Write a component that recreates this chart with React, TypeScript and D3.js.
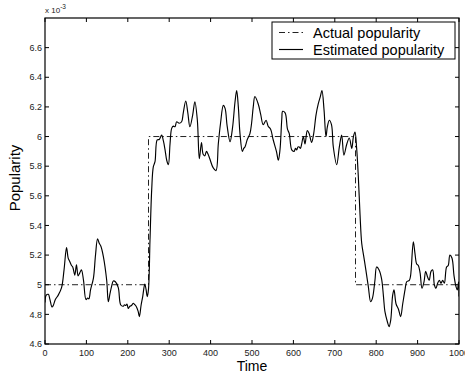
import React from "react";
import * as d3 from "d3";

const timeValues = [0,3,8,12,17,20,25,32,40,46,52,56,60,64,67,72,76,80,84,88,93,99,103,106,110,117,122,127,131,135,141,149,153,157,161,165,170,177,183,189,192,195,198,201,205,209,213,217,221,225,228,232,236,241,244,247,250,253.6,257.7,261.6,265.7,271,276,281.8,286,290,294,298,302,306,310,314,318,324,330,334,340,345,350,356.7,362,368,372.8,378,382,386,390,394,398,406,413,418.6,424,430.8,435,440,447,453,459,463,467,471,476.7,480,483,488.6,495,499,503,507,515,521,527,534,539,545,551,559,563.6,567.6,572,574,580,585.7,590,596,601.6,605,608,611,614,617,620,624,628,633.6,638,644,649,654.6,660,665,669,674,678.7,682,686.7,692,696.4,704.6,711,716.6,722,729,735,741,745,748.8,752.8,756.8,761,765,770,775,781,786.6,791,797,801,807,813,817.6,821,827,831,835,839.8,843,848,853.8,859,864,869.6,873.6,880,883,889.7,893.7,897.8,901.8,906,910.6,915.5,919.5,924.3,928,932.4,936.4,940.5,944.4,948.4,952.5,956.5,960.6,964.6,970,974,978,983,988,992.8,996,999,1000];
const estimatedValues = [4.88,4.93,4.935,4.9,4.85,4.86,4.9,4.93,4.98,5.1,5.25,5.18,5.155,5.13,5.12,5.065,5.135,5.06,5.08,5.10,5.03,4.90,4.91,4.905,4.965,5.045,5.2,5.31,5.28,5.26,5.19,5.03,4.885,4.94,4.99,5.025,5.02,4.98,4.863,4.855,4.865,4.86,4.87,4.84,4.855,4.86,4.875,4.865,4.85,4.82,4.785,4.86,4.92,5.005,4.97,4.92,4.97,5.30,5.64,5.796,5.83,5.977,5.98,6.01,5.97,5.91,5.84,5.81,5.95,6.055,6.07,6.066,6.10,6.09,6.10,6.16,6.24,6.16,6.066,6.145,6.235,6.11,5.85,5.96,5.88,5.87,5.90,5.88,5.85,5.79,5.77,5.95,6.09,6.21,6.19,6.07,5.965,6.06,6.235,6.31,6.20,6.02,5.90,5.92,5.93,5.98,6.02,6.09,6.2,6.27,6.22,6.15,6.08,6.11,6.07,6.05,5.98,5.90,5.84,5.91,6.12,6.17,6.16,6.05,6.02,5.91,5.90,5.92,5.91,5.93,5.93,5.92,5.95,6.0,5.95,6.04,6.02,5.96,6.02,6.145,6.22,6.27,6.31,6.18,6.0,6.065,6.11,6.08,5.93,5.81,5.93,6.01,5.875,5.95,5.99,5.92,6.0,6.03,5.92,5.73,5.47,5.28,5.19,5.10,4.987,4.885,4.91,5.03,5.12,5.10,5.04,4.92,4.82,4.75,4.717,4.76,4.93,4.965,4.87,4.835,4.785,4.87,4.965,5.02,5.03,5.06,5.29,5.21,5.14,5.13,5.08,4.976,5.02,5.09,5.05,5.03,5.09,5.10,5.0,4.976,5.01,5.03,5.01,5.03,5.01,5.12,5.13,5.20,5.18,5.06,4.987,4.965,5.02,4.92];

const actualTimes = [0, 250, 250, 750, 750, 1000];
const actualValues = [5, 5, 6, 6, 5, 5];

const xTicks = [0, 100, 200, 300, 400, 500, 600, 700, 800, 900, 1000];
const yTicks = [4.6, 4.8, 5, 5.2, 5.4, 5.6, 5.8, 6, 6.2, 6.4, 6.6];

const legendLabels = ["Actual popularity", "Estimated popularity"];

export default function App() {
  const W = 465, H = 379;
  const left = 45, right = 459, top = 18, bottom = 344;
  const x = d3.scaleLinear().domain([0, 1000]).range([left, right]);
  const y = d3.scaleLinear().domain([4.6, 6.8]).range([bottom, top]);
  const font = "'Liberation Sans', Arial, Helvetica, sans-serif";

  const estData = timeValues.map((t, i) => [t, estimatedValues[i]] as [number, number]);
  const actData = actualTimes.map((t, i) => [t, actualValues[i]] as [number, number]);
  const line = d3.line<[number, number]>().x(d => x(d[0])).y(d => y(d[1]));
  const smoothLine = d3.line<[number, number]>().x(d => x(d[0])).y(d => y(d[1])).curve(d3.curveCatmullRom.alpha(0.5));

  const tl = 4;
  const dashDot = "6,3,1.5,3";

  return (
    <svg width={W} height={H} style={{ position: "absolute", left: 0, top: 0, background: "#fff" }}>
      <rect x={0} y={0} width={W} height={H} fill="#fff" />
      <defs>
        <clipPath id="plotClip">
          <rect x={left} y={top} width={right - left} height={bottom - top} />
        </clipPath>
      </defs>
      <g clipPath="url(#plotClip)">
        <path d={line(actData) || ""} fill="none" stroke="#222" strokeWidth={1} strokeDasharray={dashDot} />
        <path d={smoothLine(estData) || ""} fill="none" stroke="#000" strokeWidth={1.15} strokeLinejoin="round" />
      </g>
      <rect x={left} y={top} width={right - left} height={bottom - top} fill="none" stroke="#000" strokeWidth={1.2} />
      {xTicks.map(t => (
        <g key={"x" + t}>
          <line x1={x(t)} x2={x(t)} y1={bottom} y2={bottom - tl} stroke="#000" strokeWidth={1} />
          <line x1={x(t)} x2={x(t)} y1={top} y2={top + tl} stroke="#000" strokeWidth={1} />
          <text x={x(t)} y={356} textAnchor="middle" fontFamily={font} fontSize={9} fill="#222">{t}</text>
        </g>
      ))}
      {yTicks.map(t => (
        <g key={"y" + t}>
          <line x1={left} x2={left + tl} y1={y(t)} y2={y(t)} stroke="#000" strokeWidth={1} />
          <line x1={right} x2={right - tl} y1={y(t)} y2={y(t)} stroke="#000" strokeWidth={1} />
          <text x={left - 3} y={y(t) + 3.2} textAnchor="end" fontFamily={font} fontSize={9} fill="#222">{String(t)}</text>
        </g>
      ))}
      <text x={45} y={12.5} fontFamily={font} fontSize={8} fill="#222">x 10<tspan dy={-4} fontSize={6.5}>-3</tspan></text>
      <text x={(left + right) / 2} y={371} textAnchor="middle" fontFamily={font} fontSize={14} fill="#000">Time</text>
      <text transform={`translate(20,178) rotate(-90)`} textAnchor="middle" fontFamily={font} fontSize={15} fill="#000">Popularity</text>
      <rect x={272} y={22} width={183} height={37} fill="#fff" stroke="#000" strokeWidth={1} />
      <line x1={279} x2={303} y1={32.5} y2={32.5} stroke="#222" strokeWidth={1} strokeDasharray={dashDot} />
      <line x1={279} x2={303} y1={49.5} y2={49.5} stroke="#000" strokeWidth={1.15} />
      <text x={313} y={37.5} fontFamily={font} fontSize={14.5} fill="#000">{legendLabels[0]}</text>
      <text x={313} y={54.5} fontFamily={font} fontSize={14.5} fill="#000">{legendLabels[1]}</text>
    </svg>
  );
}
